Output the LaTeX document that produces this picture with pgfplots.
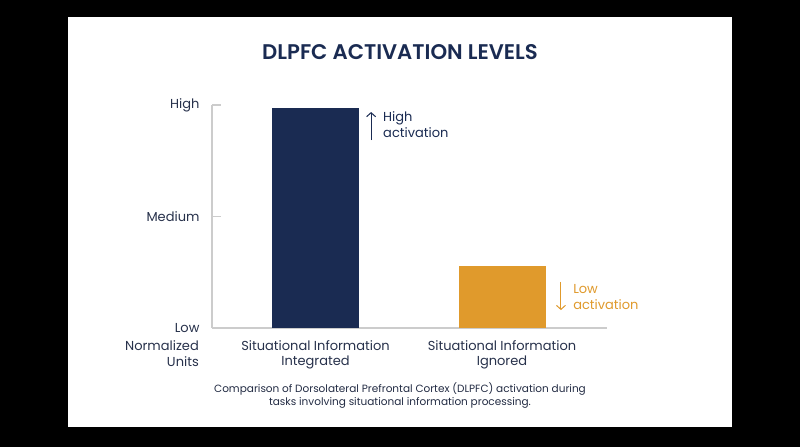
\documentclass[border=0pt]{standalone}
\usepackage{fontspec}
\setmainfont{Poppins}[BoldFont={Poppins SemiBold}]
\usepackage{pgfplots}
\pgfplotsset{compat=1.18}
\usetikzlibrary{arrows.meta}
\definecolor{navy}{HTML}{1A2B52}
\definecolor{orng}{HTML}{E09A2C}
\definecolor{txt}{HTML}{27314B}
\definecolor{axgray}{HTML}{CCCCCC}
\begin{document}
\begin{tikzpicture}[x=1pt,y=1pt]
\fill[black] (0,0) rectangle (800,447);
\fill[white] (68,20) rectangle (732,430);
\useasboundingbox (0,0) rectangle (800,447);
\node[text=navy,font=\fontsize{21.2}{25}\selectfont\bfseries] at (400,395) {DLPFC ACTIVATION LEVELS};
\begin{axis}[
  at={(212pt,119pt)}, anchor=south west,
  scale only axis, width=395pt, height=223pt,
  xmin=-0.555, xmax=1.563, ymin=0, ymax=2,
  axis x line*=bottom, axis y line*=left,
  axis line style={-, axgray, line width=1.5pt},
  xtick={0,1},
  xticklabels={{Situational Information\\Integrated},{Situational Information\\Ignored}},
  xticklabel style={align=center, font=\fontsize{13}{15.5}\selectfont, text=txt},
  x tick style={draw=none},
  ytick={0,1,2}, yticklabels={Low,Medium,High},
  yticklabel style={font=\fontsize{13}{15}\selectfont, text=txt, xshift=-9pt},
  y tick style={axgray, line width=1.2pt},
  tick align=inside, major tick length=9pt,
  ybar, bar width=87pt, clip=false, enlargelimits=false,
]
\addplot[fill=navy, draw=none, bar shift=0pt] coordinates {(0,1.97)};
\addplot[fill=orng, draw=none, bar shift=0pt] coordinates {(1,0.556)};
\draw[navy, line width=1pt, -{Straight Barb[length=4pt,width=9pt]}] (axis cs:0.298,1.686) -- (axis cs:0.298,1.937);
\node[anchor=west, align=left, text=navy, font=\fontsize{13}{16}\selectfont, inner sep=0pt] at (axis cs:0.362,1.82) {High\\activation};
\draw[orng, line width=1pt, -{Straight Barb[length=4pt,width=9pt]}] (axis cs:1.316,0.413) -- (axis cs:1.316,0.161);
\node[anchor=west, align=left, text=orng, font=\fontsize{13}{16}\selectfont, inner sep=0pt] at (axis cs:1.381,0.278) {Low\\activation};
\end{axis}
\node[anchor=east, align=right, text=txt, font=\fontsize{13}{16.5}\selectfont, inner sep=0pt] at (199,93.5) {Normalized\\Units};
\node[align=center, text=txt!90!black, font=\fontsize{10.5}{13}\selectfont] at (400,51.5) {Comparison of Dorsolateral Prefrontal Cortex (DLPFC) activation during\\tasks involving situational information processing.};
\end{tikzpicture}
\end{document}
